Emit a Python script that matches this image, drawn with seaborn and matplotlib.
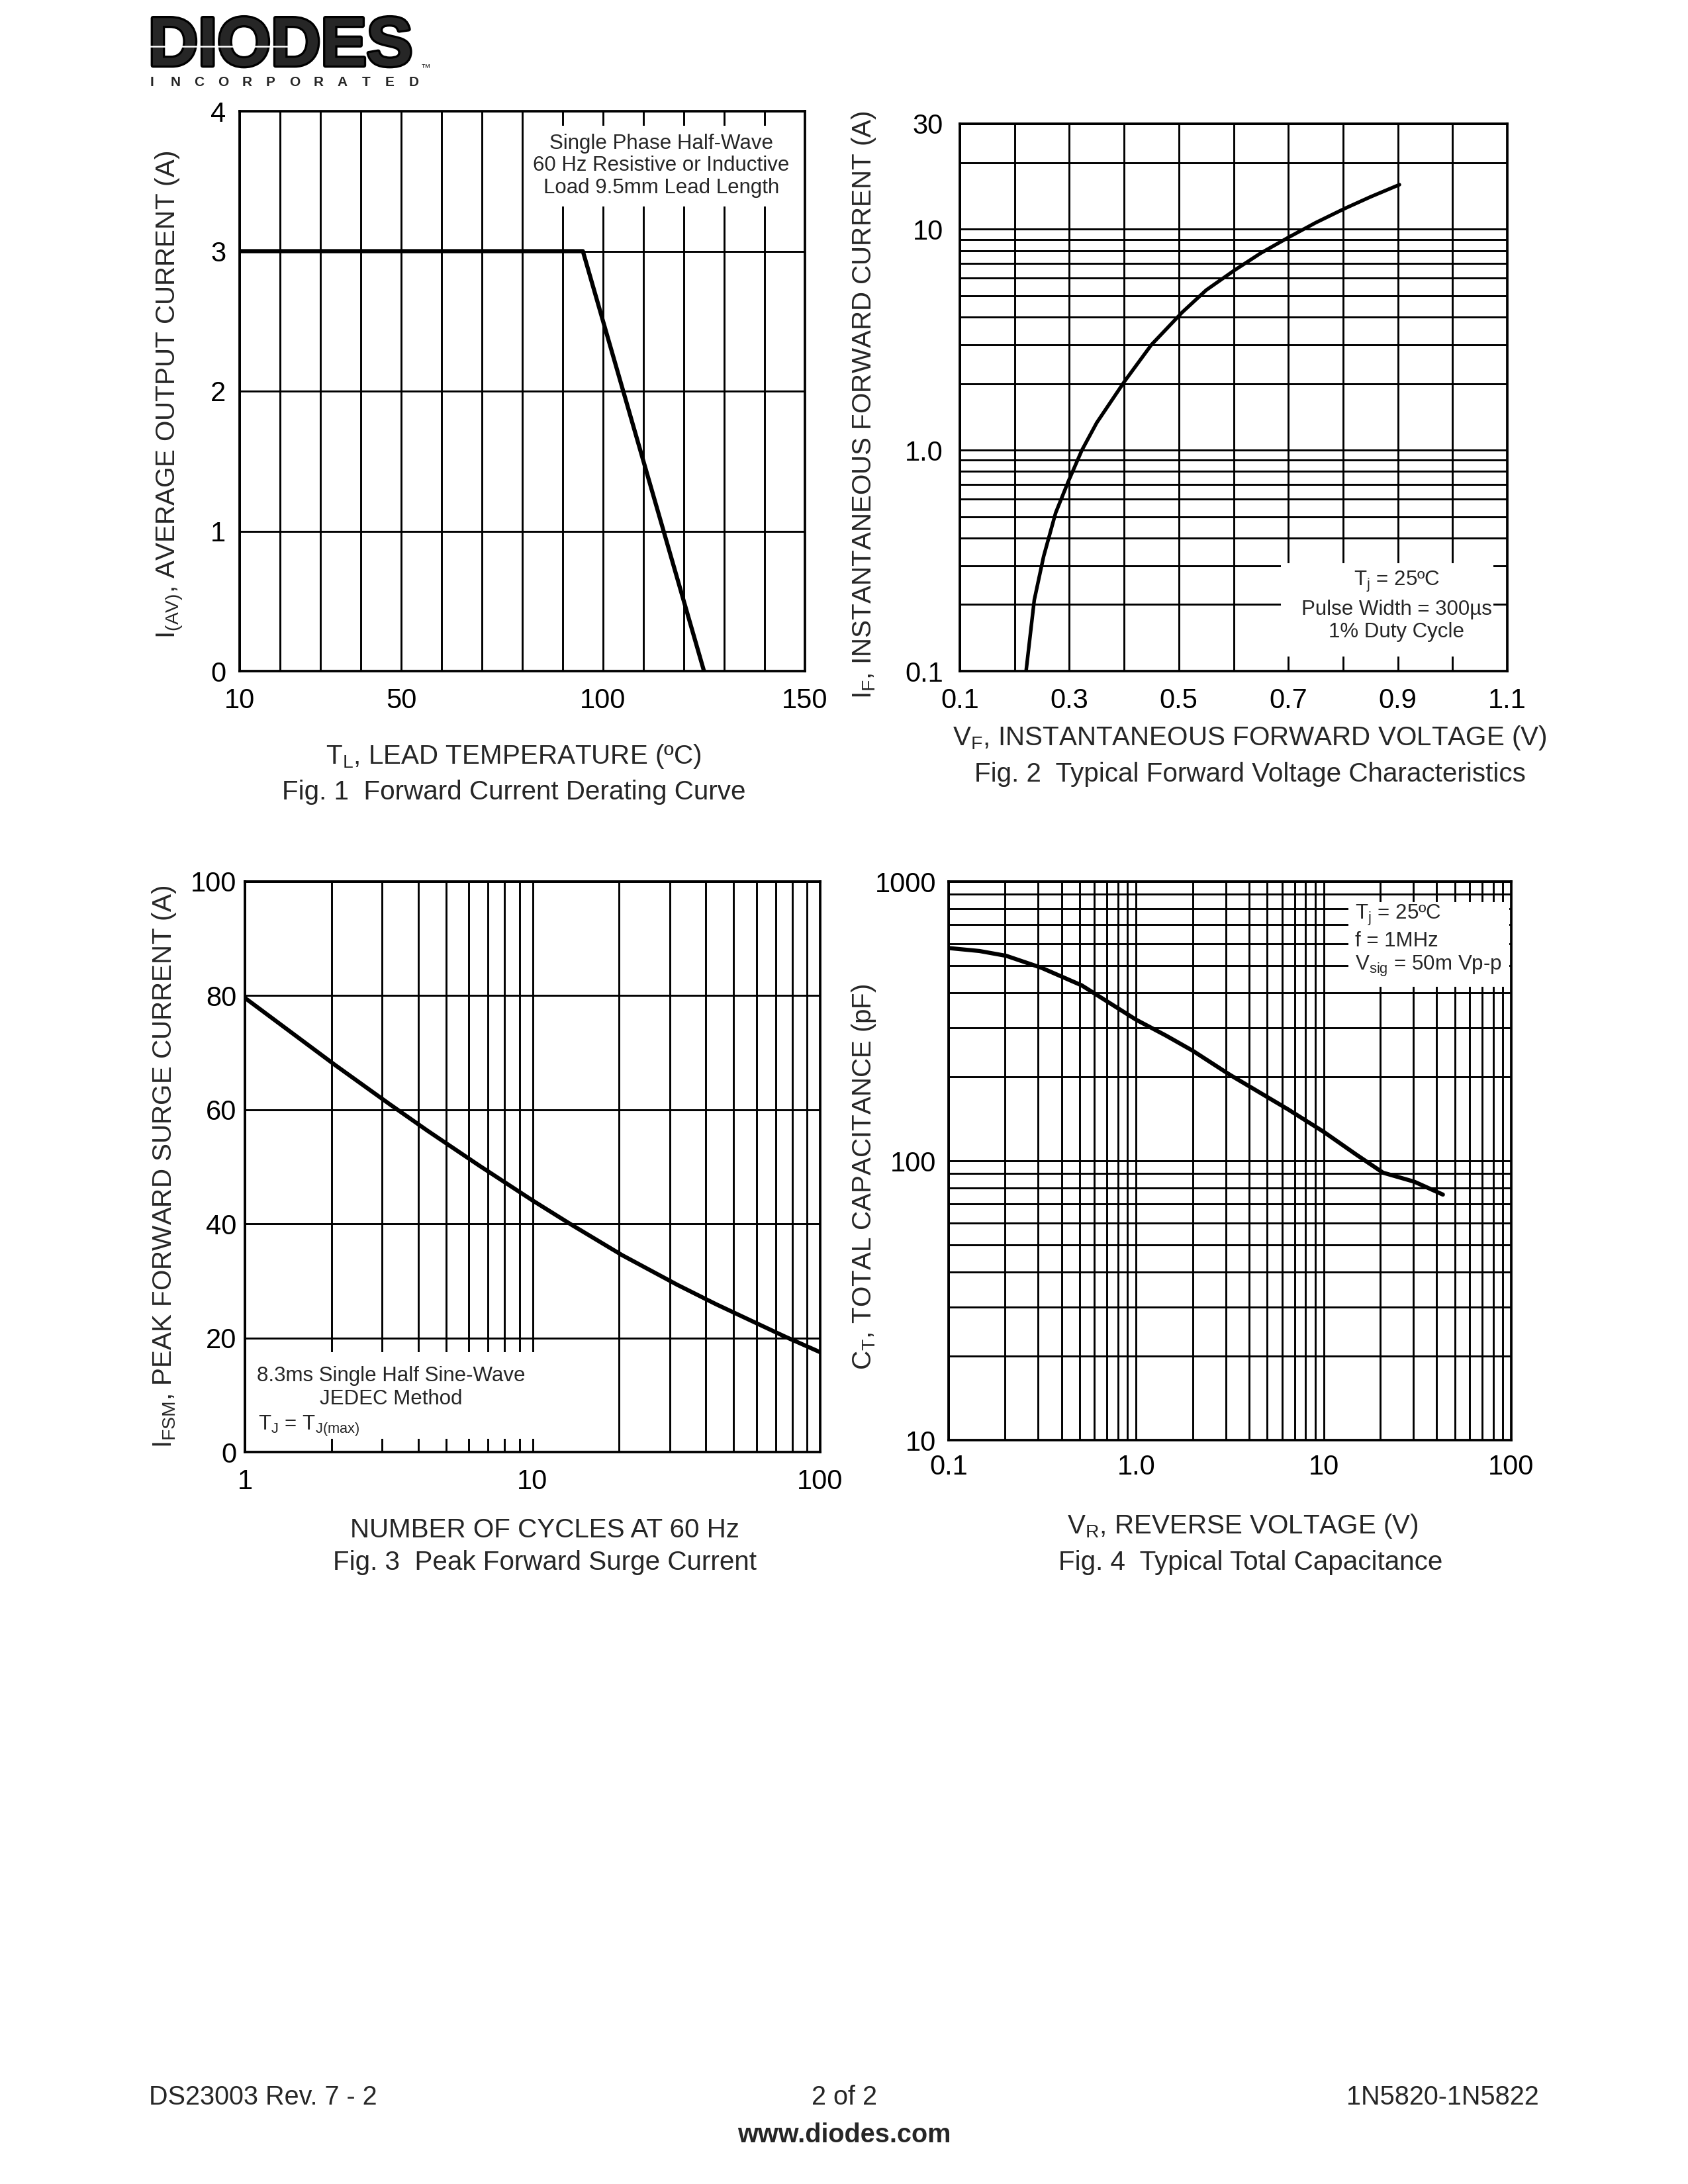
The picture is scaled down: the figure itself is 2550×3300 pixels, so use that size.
import matplotlib
matplotlib.use("Agg")
import matplotlib.pyplot as plt
import matplotlib.patheffects as pe
import seaborn as sns
import numpy as np
from matplotlib.ticker import FixedLocator, FixedFormatter, LogLocator, NullFormatter
from matplotlib.patches import Rectangle
from matplotlib.lines import Line2D

# Fig. 1  derating
fig1_temp = [10, 95, 125]
fig1_iav = [3.0, 3.0, 0.0]
fig1_xticks = [10, 50, 100, 150]
fig1_yticks = [0, 1, 2, 3, 4]

# Fig. 2  forward voltage
fig2_vf = [0.221, 0.236, 0.253, 0.275, 0.298, 0.323, 0.35, 0.401, 0.45, 0.506,
           0.55, 0.601, 0.65, 0.701, 0.75, 0.803, 0.85, 0.903]
fig2_if = [0.1, 0.21, 0.33, 0.52, 0.72, 1.0, 1.33, 2.05, 3.0, 4.2,
           5.3, 6.5, 7.8, 9.2, 10.7, 12.4, 14.0, 15.9]
fig2_xticks = [0.1, 0.3, 0.5, 0.7, 0.9, 1.1]
fig2_xlabels = ["0.1", "0.3", "0.5", "0.7", "0.9", "1.1"]
fig2_yticks = [0.1, 1.0, 10, 30]
fig2_ylabels = ["0.1", "1.0", "10", "30"]

# Fig. 3  surge current
fig3_cycles = [1, 2.05, 3.18, 4.32, 6.53, 10, 13.7, 20.5, 31.9, 43.5, 75.7, 100]
fig3_ifsm = [79.6, 67.9, 61.0, 56.3, 50.2, 44.1, 39.8, 34.5, 29.3, 25.9, 20.2, 17.5]
fig3_xticks = [1, 10, 100]
fig3_xlabels = ["1", "10", "100"]
fig3_yticks = [0, 20, 40, 60, 80, 100]

# Fig. 4  capacitance
fig4_vr = [0.1, 0.146, 0.203, 0.313, 0.512, 1.0, 1.44, 2.0, 3.17, 6.44, 10, 15.0, 20.7, 30.4, 43.2]
fig4_ct = [578, 564, 542, 491, 425, 320, 281, 248, 203, 153, 127, 105, 90.7, 84.2, 75.7]
fig4_xticks = [0.1, 1, 10, 100]
fig4_xlabels = ["0.1", "1.0", "10", "100"]
fig4_yticks = [10, 100, 1000]
fig4_ylabels = ["10", "100", "1000"]

# ---- estilo ----
sns.set_style("white")
plt.rcParams["font.family"] = ["Liberation Sans", "DejaVu Sans"]
plt.rcParams["mathtext.fontset"] = "custom"
plt.rcParams["mathtext.rm"] = "Liberation Sans"
plt.rcParams["mathtext.it"] = "Liberation Sans:italic"
plt.rcParams["mathtext.bf"] = "Liberation Sans:bold"

W, H = 2550, 3300
fig = plt.figure(figsize=(8.5, 11), dpi=300)
fig.patch.set_facecolor("white")

LAB_FS = 9.7
BOX_FS = 7.5


def px_ax(l, t, r, b):
    return fig.add_axes([l / W, 1 - b / H, (r - l) / W, (b - t) / H])


def ftext(x, y, s, **kw):
    return fig.text(x / W, 1 - y / H, s, **kw)


def estilo(ax, xpad=6, ypad=5):
    for s in ax.spines.values():
        s.set_visible(True)
        s.set_color("black")
        s.set_linewidth(0.9)
    ax.tick_params(which="both", length=0, labelsize=10, colors="black")
    ax.tick_params(axis="x", pad=xpad)
    ax.tick_params(axis="y", pad=ypad)
    ax.grid(which="both", color="black", linewidth=0.7)
    ax.set_axisbelow(True)
    ax.set_xlabel("")
    ax.set_ylabel("")


def caja(ax, x0, y0, x1, y1):
    ax.add_patch(Rectangle((x0, y0), x1 - x0, y1 - y0, transform=ax.transAxes,
                           facecolor="white", edgecolor="none", zorder=1))


# ---- Fig. 1 ----
ax1 = px_ax(362, 168, 1216, 1014)
sns.lineplot(x=fig1_temp, y=fig1_iav, ax=ax1, color="black", linewidth=1.5, sort=False, zorder=3)
ax1.set_xlim(10, 150)
ax1.set_ylim(0, 4)
ax1.set_xticks(fig1_xticks)
ax1.set_xticks(np.arange(10, 151, 10), minor=True)
ax1.set_yticks(fig1_yticks)
estilo(ax1)
caja(ax1, 0.518, 0.83, 0.981, 0.974)
ax1.text(0.746, 0.903, "Single Phase Half-Wave\n60 Hz Resistive or Inductive\nLoad 9.5mm Lead Length",
         transform=ax1.transAxes, ha="center", va="center", fontsize=BOX_FS, linespacing=1.15, zorder=4)

ftext(257, 596, r"I$_{\rm (AV)}$, AVERAGE OUTPUT CURRENT (A)", rotation=90, ha="center", va="center", fontsize=LAB_FS)
ftext(776, 1143, r"T$_{\rm L}$, LEAD TEMPERATURE (ºC)", ha="center", va="center", fontsize=LAB_FS)
ftext(776, 1197, "Fig. 1  Forward Current Derating Curve", ha="center", va="center", fontsize=LAB_FS)

# ---- Fig. 2 ----
ax2 = px_ax(1450, 187, 2277, 1014)
sns.lineplot(x=fig2_vf, y=fig2_if, ax=ax2, color="black", linewidth=1.3, sort=False, zorder=3)
ax2.set_yscale("log")
ax2.set_xlim(0.1, 1.1)
ax2.set_ylim(0.1, 30)
ax2.set_xticks(fig2_xticks)
ax2.set_xticklabels(fig2_xlabels)
ax2.set_xticks(np.arange(0.2, 1.05, 0.2), minor=True)
ax2.yaxis.set_major_locator(FixedLocator(fig2_yticks))
ax2.yaxis.set_major_formatter(FixedFormatter(fig2_ylabels))
ax2.yaxis.set_minor_locator(LogLocator(base=10, subs=range(2, 10)))
ax2.yaxis.set_minor_formatter(NullFormatter())
estilo(ax2, ypad=6)
caja(ax2, 0.586, 0.026, 0.975, 0.197)
ax2.text(0.798, 0.163, r"T$_{\rm j}$ = 25ºC", transform=ax2.transAxes, ha="center", va="center",
         fontsize=BOX_FS, zorder=4)
ax2.text(0.798, 0.112, "Pulse Width = 300µs", transform=ax2.transAxes, ha="center", va="center",
         fontsize=BOX_FS, zorder=4)
ax2.text(0.798, 0.071, "1% Duty Cycle", transform=ax2.transAxes, ha="center", va="center",
         fontsize=BOX_FS, zorder=4)

ftext(1305, 612, r"I$_{\rm F}$, INSTANTANEOUS FORWARD CURRENT (A)", rotation=90, ha="center", va="center", fontsize=LAB_FS)
ftext(1888, 1115, r"V$_{\rm F}$, INSTANTANEOUS FORWARD VOLTAGE (V)", ha="center", va="center", fontsize=LAB_FS)
ftext(1888, 1170, "Fig. 2  Typical Forward Voltage Characteristics", ha="center", va="center", fontsize=LAB_FS)

# ---- Fig. 3 ----
ax3 = px_ax(370, 1332, 1239, 2194)
sns.lineplot(x=fig3_cycles, y=fig3_ifsm, ax=ax3, color="black", linewidth=1.5, sort=False, zorder=3)
ax3.set_xscale("log")
ax3.set_xlim(1, 100)
ax3.set_ylim(0, 100)
ax3.xaxis.set_major_locator(FixedLocator(fig3_xticks))
ax3.xaxis.set_major_formatter(FixedFormatter(fig3_xlabels))
ax3.xaxis.set_minor_locator(LogLocator(base=10, subs=range(2, 10)))
ax3.xaxis.set_minor_formatter(NullFormatter())
ax3.set_yticks(fig3_yticks)
estilo(ax3, ypad=3)
caja(ax3, 0.002, 0.023, 0.506, 0.175)
ax3.text(0.254, 0.133, "8.3ms Single Half Sine-Wave", transform=ax3.transAxes, ha="center", va="center",
         fontsize=BOX_FS, zorder=4)
ax3.text(0.254, 0.093, "JEDEC Method", transform=ax3.transAxes, ha="center", va="center",
         fontsize=BOX_FS, zorder=4)
ax3.text(0.023, 0.045, r"T$_{\rm J}$ = T$_{\rm J(max)}$", transform=ax3.transAxes, ha="left", va="center",
         fontsize=BOX_FS, zorder=4)

ftext(248, 1763, r"I$_{\rm FSM}$, PEAK FORWARD SURGE CURRENT (A)", rotation=90, ha="center", va="center", fontsize=LAB_FS)
ftext(823, 2312, "NUMBER OF CYCLES AT 60 Hz", ha="center", va="center", fontsize=LAB_FS)
ftext(823, 2361, "Fig. 3  Peak Forward Surge Current", ha="center", va="center", fontsize=LAB_FS)

# ---- Fig. 4 ----
ax4 = px_ax(1433, 1332, 2283, 2176)
sns.lineplot(x=fig4_vr, y=fig4_ct, ax=ax4, color="black", linewidth=1.5, sort=False, zorder=3)
ax4.set_xscale("log")
ax4.set_yscale("log")
ax4.set_xlim(0.1, 100)
ax4.set_ylim(10, 1000)
ax4.xaxis.set_major_locator(FixedLocator(fig4_xticks))
ax4.xaxis.set_major_formatter(FixedFormatter(fig4_xlabels))
ax4.xaxis.set_minor_locator(LogLocator(base=10, subs=range(2, 10)))
ax4.xaxis.set_minor_formatter(NullFormatter())
ax4.yaxis.set_major_locator(FixedLocator(fig4_yticks))
ax4.yaxis.set_major_formatter(FixedFormatter(fig4_ylabels))
ax4.yaxis.set_minor_locator(LogLocator(base=10, subs=range(2, 10)))
ax4.yaxis.set_minor_formatter(NullFormatter())
estilo(ax4, xpad=5, ypad=4.5)
caja(ax4, 0.71, 0.812, 0.997, 0.963)
ax4.text(0.722, 0.94, r"T$_{\rm j}$ = 25ºC", transform=ax4.transAxes, ha="left", va="center",
         fontsize=BOX_FS, zorder=4)
ax4.text(0.722, 0.893, "f = 1MHz", transform=ax4.transAxes, ha="left", va="center",
         fontsize=BOX_FS, zorder=4)
ax4.text(0.722, 0.848, r"V$_{\rm sig}$ = 50m Vp-p", transform=ax4.transAxes, ha="left", va="center",
         fontsize=BOX_FS, zorder=4)

ftext(1305, 1778, r"C$_{\rm T}$, TOTAL CAPACITANCE (pF)", rotation=90, ha="center", va="center", fontsize=LAB_FS)
ftext(1877, 2306, r"V$_{\rm R}$, REVERSE VOLTAGE (V)", ha="center", va="center", fontsize=LAB_FS)
ftext(1889, 2361, "Fig. 4  Typical Total Capacitance", ha="center", va="center", fontsize=LAB_FS)

# ---- logo ----
logo = ftext(224, 99, "DIODES", ha="left", va="baseline", fontsize=25, fontweight="bold")
logo.set_path_effects([pe.withStroke(linewidth=1.6, foreground="black")])
fig.add_artist(Line2D([225 / W, 440 / W], [1 - 70 / H, 1 - 70 / H], color="white", linewidth=0.6,
                      transform=fig.transFigure, zorder=6))
ftext(636, 106, "™", ha="left", va="baseline", fontsize=3.5)
letras = "INCORPORATED"
for i, c in enumerate(letras):
    ftext(229 + i * 36.0, 124, c, ha="center", va="center", fontsize=5, fontweight="bold")

# ---- pie de pagina ----
ftext(225, 3169, "DS23003 Rev. 7 - 2", ha="left", va="center", fontsize=9.5)
ftext(1275, 3169, "2 of 2", ha="center", va="center", fontsize=9.5)
ftext(2325, 3169, "1N5820-1N5822", ha="right", va="center", fontsize=9.5)
ftext(1275, 3226, "www.diodes.com", ha="center", va="center", fontsize=9.5, fontweight="bold")

fig.savefig("out.png", dpi=300, facecolor="white")
